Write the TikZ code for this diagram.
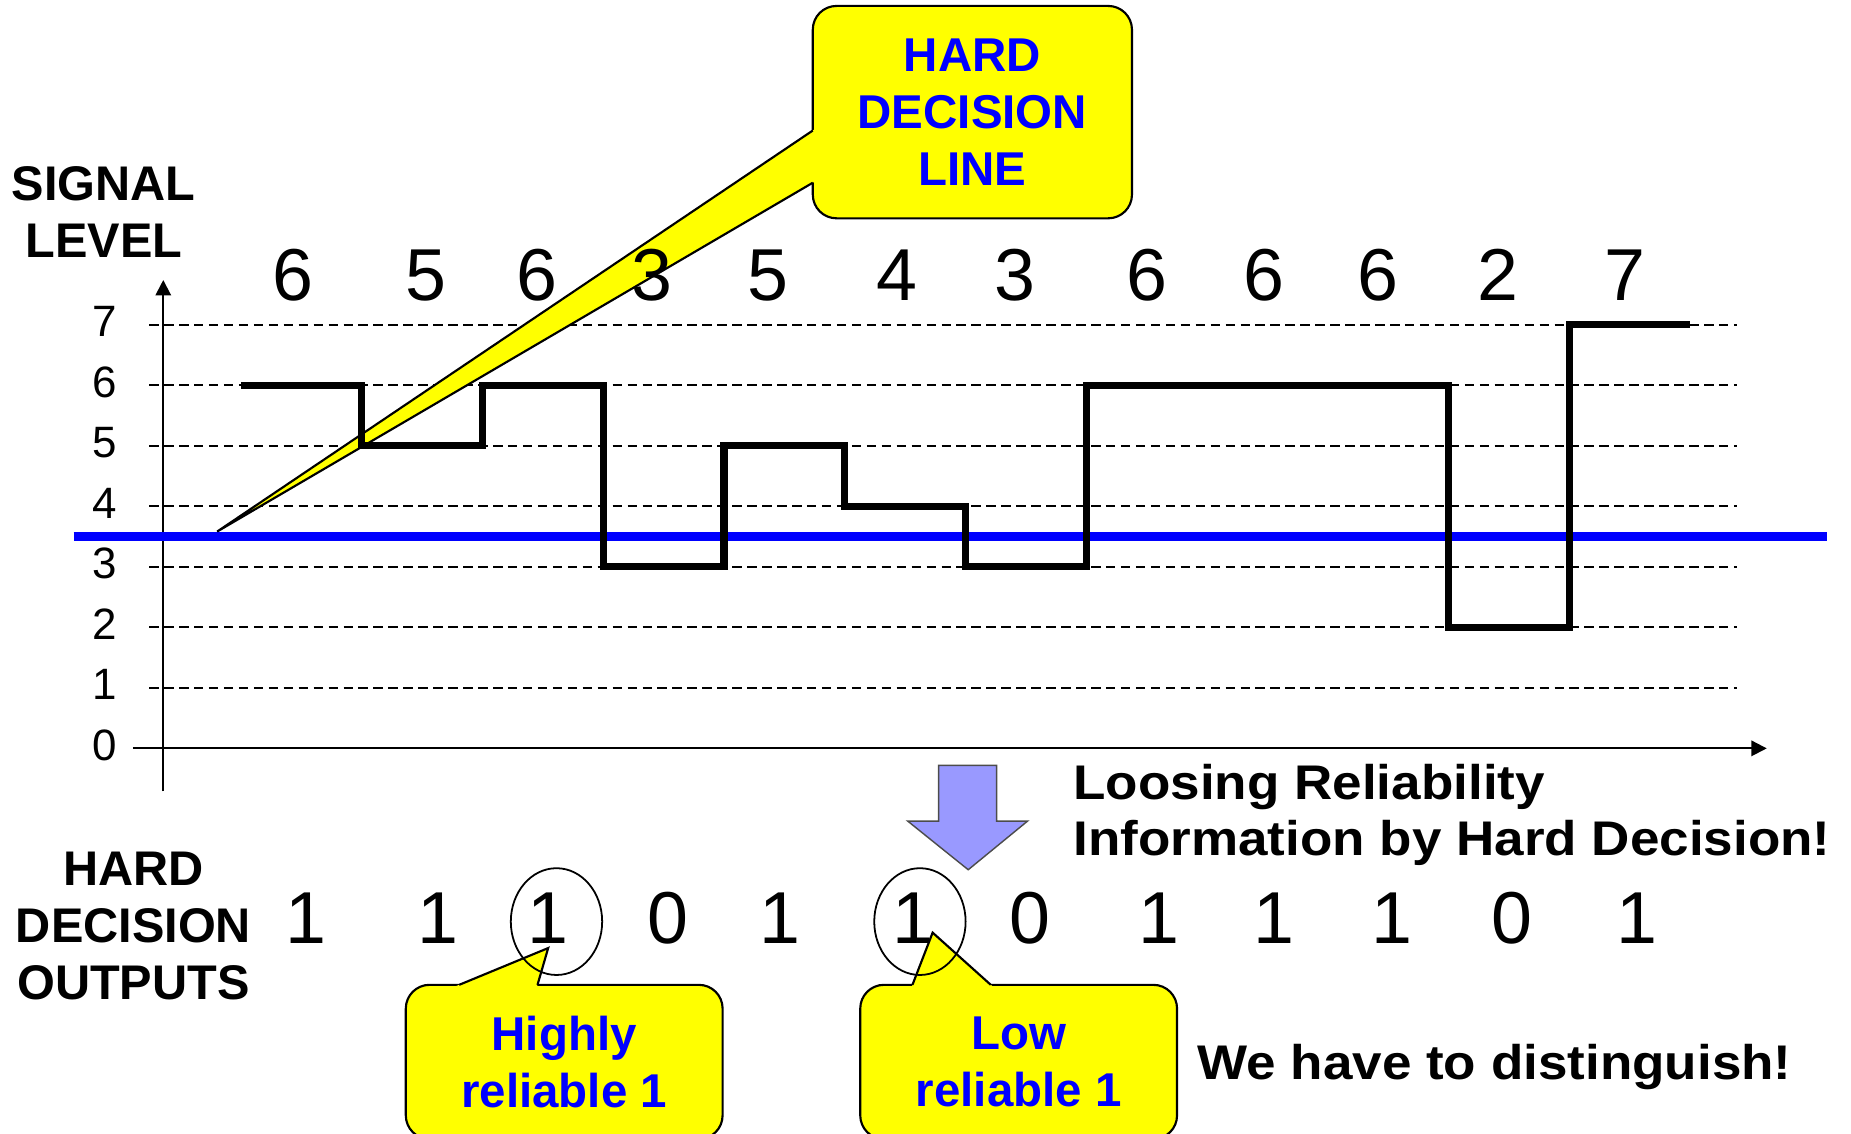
\documentclass[tikz,border=0pt]{standalone}
\usepackage{fontspec}
\setmainfont{Liberation Sans}
\newfontfamily\widefont[FakeStretch=1.09]{Liberation Sans}
\usetikzlibrary{shapes.geometric,arrows.meta}
\definecolor{noteyellow}{RGB}{255,255,0}
\definecolor{noteblue}{RGB}{0,0,255}
\definecolor{arrowblue}{RGB}{153,153,255}

\begin{document}
\begin{tikzpicture}[x=1pt, y=-1pt,
    every node/.style={inner sep=0pt},
    grid line/.style={line width=1.4pt, dash pattern=on 8pt off 4.6pt},
    axis/.style={line width=1.7pt, -{Triangle[length=13pt, width=13pt]}},
    signal/.style={line width=6pt},
    decision/.style={line width=7pt, noteblue},
    tick/.style={anchor=base, font=\fontsize{37}{44}\selectfont},
    value/.style={anchor=base, font=\fontsize{62}{74}\selectfont},
    caption/.style={align=center, font=\fontsize{41}{48}\selectfont\bfseries},
    note/.style={draw, line width=1.8pt, fill=noteyellow, rounded corners=20pt, align=center,
      text=noteblue, font=\fontsize{40}{48}\selectfont\bfseries},
    note edge/.style={line width=1.8pt},
    ring/.style={draw, ellipse, line width=1.5pt, minimum width=77pt, minimum height=90pt}]
  \useasboundingbox (0,0) rectangle (1560,955);

  % levels and axes
  \foreach \k in {1,...,7}
    \draw[grid line] (125.7,{630.7-51*\k}) -- (1463.6,{630.7-51*\k});
  \foreach \k in {0,...,7}
    \node[tick] (tick\k) at (88.5,{640.7-51*\k}) {\k};
  \draw[axis] (112,630.7) -- (1489,630.7);
  \draw[axis] (137.6,667) -- (137.6,236);
  \draw[decision] (62,452.2) -- (1540,452.2);

  % hard decision line callout
  \coordinate (line tip) at (183,448);
  \node[note, minimum width=269pt, minimum height=179pt] (line note) at (819.5,94.5) {HARD\\DECISION\\LINE};
  \fill[noteyellow] (689,107.3) -- (line tip) -- (689,151.7) -- cycle;
  \draw[note edge] (685,110) -- (line tip) -- (685,154);

  % received signal
  \draw[signal] (203,324.7) -| (304.8,375.7) -| (406.6,324.7) -| (508.4,477.7) -| (610.2,375.7)
    -| (712,426.7) -| (813.8,477.7) -| (915.6,324.7) -| (1221,528.7) -| (1322.8,273.7) -- (1424.6,273.7);
  \foreach \x/\v [count=\i] in {247.3/6,358.8/5,452.3/6,549.7/3,647.1/5,756.2/4,855.1/3,966.6/6,1065.6/6,1161.5/6,1262.8/2,1369.8/7}
    \node[value] (level\i) at (\x,253.4) {\v};
  \node[caption] (signal label) at (87.5,179) {SIGNAL\\LEVEL};

  % hard decisions
  \foreach \x/\b [count=\i] in {258/1,369/1,462/1,563/0,657/1,769/1,868/0,977/1,1074/1,1173/1,1274/0,1380/1}
    \node[value] (bit\i) at (\x,795) {\b};
  \node[caption] (output label) at (112.5,780.5) {HARD\\DECISION\\OUTPUTS};

  \draw[fill=arrowblue, draw=black!70, line width=1.2pt] (791,645) -- (840,645) -- (840,692) -- (866,692)
    -- (816,733) -- (765,692) -- (791,692) -- cycle;
  \node[caption, align=left, anchor=west, font=\widefont\fontsize{41}{47}\selectfont\bfseries] (loss label)
    at (904.5,687) {Loosing Reliability\\Information by Hard Decision!};

  % reliability callouts
  \coordinate (high tip) at (462,799);
  \coordinate (low tip) at (786,786);
  \node[note, minimum width=267pt, minimum height=130pt] (high note) at (475.5,895) {Highly\\reliable 1};
  \fill[noteyellow] (377.3,834) -- (high tip) -- (451.8,834) -- cycle;
  \draw[note edge] (387,830) -- (high tip) -- (453,830);
  \node[note, minimum width=267pt, minimum height=130pt] (low note) at (858.5,895) {Low\\reliable 1};
  \fill[noteyellow] (767.5,834) -- (low tip) -- (839.5,834) -- cycle;
  \draw[note edge] (769,830) -- (low tip) -- (835,830);
  \node[ring] (high ring) at (469,776.7) {};
  \node[ring] (low ring) at (775.3,776.7) {};
  \node[anchor=base west, font=\widefont\fontsize{41}{48}\selectfont\bfseries] (task label)
    at (1009,910) {We have to distinguish!};
\end{tikzpicture}
\end{document}
